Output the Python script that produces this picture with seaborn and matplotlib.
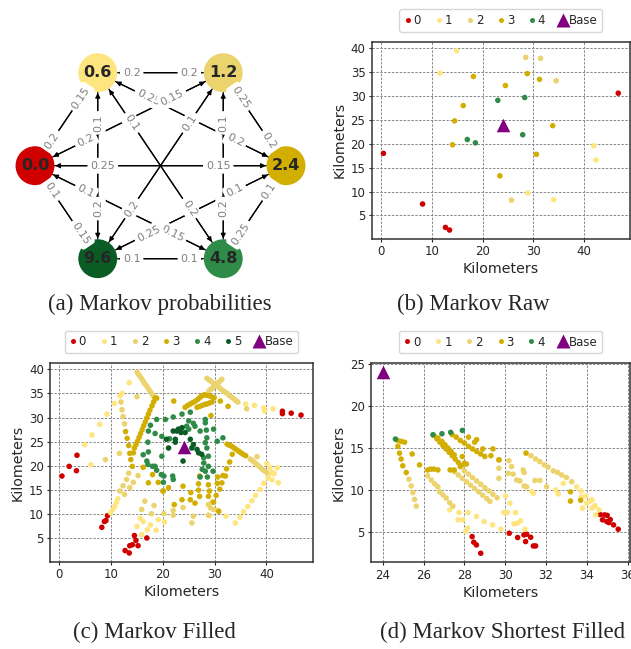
import math
import pandas as pd
import matplotlib
matplotlib.use("Agg")
import matplotlib.pyplot as plt
from matplotlib.patches import FancyArrowPatch
from matplotlib.lines import Line2D
import seaborn as sns

sns.set_style("ticks")
plt.rcParams["font.family"] = ["DejaVu Sans"]

# ---------------- Markov chain ----------------
states = ["0.0", "0.6", "1.2", "2.4", "4.8", "9.6"]
# probability of moving from the row state to the column state
transitions = [
    [0.00, 0.15, 0.15, 0.15, 0.15, 0.15],
    [0.20, 0.00, 0.20, 0.20, 0.20, 0.20],
    [0.20, 0.20, 0.00, 0.20, 0.20, 0.20],
    [0.25, 0.25, 0.25, 0.00, 0.25, 0.25],
    [0.10, 0.10, 0.10, 0.10, 0.00, 0.10],
    [0.10, 0.10, 0.10, 0.10, 0.10, 0.00],
]

levels = ["0", "1", "2", "3", "4", "5"]
level_colors = ["#D00000", "#FFE57F", "#EBD36D", "#D2AE00", "#2E8B48", "#0A5C24"]
base_color = "#800080"
base_point = (24.0, 24.0)

# ---------------- Markov Raw ----------------
raw_level0 = [(0.5, 18.0), (8.2, 7.4), (12.7, 2.5), (13.5, 1.95), (46.7, 30.6)]
raw_level1 = [(14.9, 39.5), (11.6, 34.8), (41.9, 19.6), (42.3, 16.6), (34.0, 8.3), (28.9, 9.7)]
raw_level2 = [(28.5, 38.1), (31.4, 37.9), (34.5, 33.2), (25.7, 8.2)]
raw_level3 = [(18.2, 34.1), (28.8, 34.7), (31.2, 33.5), (24.5, 32.2), (16.2, 28.0),
              (14.5, 24.8), (14.1, 19.8), (33.8, 23.8), (30.6, 17.8), (23.4, 13.3)]
raw_level4 = [(23.0, 29.1), (28.3, 29.7), (17.0, 20.9), (18.6, 20.2), (27.9, 21.9)]

# ---------------- Markov Filled ----------------
filled_level0 = [(0.5, 17.9), (1.9, 19.9), (3.4, 22.2), (3.3, 19.0),
                 (8.2, 7.3), (8.7, 8.5), (9.0, 8.7), (9.3, 9.7),
                 (12.7, 2.5), (13.5, 2.0), (13.6, 3.5), (14.1, 3.7), (14.5, 5.6),
                 (14.8, 4.6), (15.2, 3.5), (16.9, 5.1),
                 (43.1, 31.3), (43.1, 30.8), (44.8, 30.9), (46.7, 30.5)]
filled_level1 = [(4.9, 24.4), (6.3, 26.4), (7.8, 28.6), (9.2, 30.7), (10.6, 32.9), (11.7, 34.5),
                 (12.1, 35.0), (13.5, 37.2), (6.1, 20.2),
                 (9.9, 10.3), (10.3, 11.0), (10.7, 11.6), (11.0, 12.4), (11.3, 13.2),
                 (15.6, 9.2), (16.2, 8.5), (15.0, 7.5), (15.9, 5.8), (17.0, 6.8), (18.7, 6.7),
                 (17.6, 7.8), (19.1, 8.9), (20.3, 8.4), (29.0, 9.7),
                 (36.0, 32.8), (37.7, 32.5), (39.5, 32.0), (39.7, 31.3), (41.3, 31.8),
                 (32.2, 9.6), (34.0, 8.2), (34.9, 9.4), (35.6, 10.5), (36.4, 11.6), (37.2, 12.8),
                 (37.9, 13.9), (38.8, 15.1), (39.5, 16.4), (40.3, 17.5), (41.2, 18.6), (42.1, 19.6),
                 (40.1, 20.5), (40.5, 18.3), (41.1, 17.1), (42.3, 16.5), (40.7, 19.6), (41.5, 18.4)]
filled_level2 = [(15.0, 39.4), (15.3, 38.9), (15.6, 38.5), (15.9, 38.0), (16.2, 37.5), (16.5, 37.0),
                 (16.8, 36.6), (17.1, 36.1), (17.4, 35.6), (17.7, 35.2), (18.0, 34.7), (18.3, 34.3),
                 (28.5, 38.1), (28.9, 37.8), (29.3, 37.5), (29.7, 37.1), (30.1, 36.8), (30.5, 36.5),
                 (30.9, 36.2), (31.3, 35.8), (31.7, 35.5), (32.1, 35.2), (32.5, 34.9), (32.9, 34.5),
                 (33.3, 34.2), (33.7, 33.9), (34.1, 33.5), (34.5, 33.2),
                 (31.4, 37.9), (31.1, 37.6), (30.8, 37.3), (30.5, 37.0), (29.8, 36.3), (29.5, 36.0),
                 (29.2, 35.8), (28.9, 35.5), (36.2, 31.8),
                 (36.9, 21.4), (37.3, 21.1), (37.6, 20.8), (38.0, 20.4), (38.4, 20.1), (38.8, 19.7),
                 (39.2, 19.3), (39.6, 19.0), (40.0, 18.7), (38.2, 21.9),
                 (11.9, 33.2), (12.1, 31.6), (12.3, 30.2), (12.6, 28.7), (15.0, 34.3),
                 (11.6, 22.6), (8.9, 21.3),
                 (11.7, 14.8), (12.3, 15.9), (13.0, 17.2), (12.6, 14.1), (13.6, 15.5), (14.3, 16.6),
                 (15.2, 18.0), (13.4, 18.5),
                 (16.5, 12.7), (18.3, 11.8), (17.8, 10.1), (20.2, 10.1), (22.0, 10.8), (22.0, 9.8),
                 (23.9, 11.4), (25.9, 9.6), (25.6, 8.2), (28.8, 12.0), (29.5, 12.5), (29.8, 11.0),
                 (29.2, 11.3), (28.8, 9.8), (30.6, 10.8), (15.9, 11.0)]
filled_level3 = [(18.8, 34.0), (18.5, 34.0), (18.2, 33.2), (17.9, 32.4), (17.5, 31.5), (17.2, 30.7),
                 (16.9, 29.9), (16.6, 29.1), (16.3, 28.3), (16.0, 27.5), (15.7, 26.7), (15.4, 25.9),
                 (15.1, 25.1), (14.8, 24.4), (14.5, 23.7),
                 (12.8, 27.1), (13.1, 25.7), (13.4, 24.2), (13.6, 22.6), (13.8, 21.3), (14.1, 19.9),
                 (14.3, 22.7), (16.2, 19.7), (17.2, 16.5), (18.0, 18.2), (18.3, 19.9), (20.1, 14.8),
                 (19.1, 16.6), (22.1, 33.4),
                 (24.3, 32.1), (24.8, 32.5), (25.3, 32.8), (25.8, 33.1), (26.3, 33.4), (26.8, 33.8),
                 (27.2, 34.2), (27.6, 34.5), (28.0, 34.7), (28.4, 34.6), (28.9, 34.5), (29.4, 34.3),
                 (29.9, 34.1), (31.1, 33.4), (32.6, 32.3), (29.3, 30.4),
                 (26.6, 32.1), (27.1, 32.3), (27.6, 32.5), (28.1, 32.7), (28.5, 32.8), (29.0, 33.0),
                 (29.5, 33.2),
                 (32.4, 24.5), (32.8, 24.3), (33.1, 24.2), (33.5, 23.9), (33.9, 23.6), (34.3, 23.3),
                 (34.7, 23.0), (35.1, 22.7), (35.5, 22.4), (36.0, 22.1),
                 (33.4, 22.4), (32.9, 20.8), (32.3, 19.4), (32.1, 17.9), (31.6, 18.0), (30.6, 17.7),
                 (30.5, 16.4), (31.4, 16.5), (31.0, 15.2), (30.3, 13.9), (29.8, 12.5),
                 (21.1, 15.5), (20.0, 14.8), (22.2, 12.0), (23.7, 13.0), (23.9, 15.8), (25.4, 14.5),
                 (25.3, 13.0), (26.2, 12.3), (26.9, 16.3), (26.9, 15.0), (27.1, 13.7), (27.1, 17.9),
                 (28.8, 16.1), (29.0, 14.8), (28.8, 13.7), (30.8, 10.6)]
filled_level4 = [(17.6, 28.4), (18.8, 29.6), (20.5, 29.6), (22.0, 30.1), (23.7, 30.7), (25.3, 31.1),
                 (17.2, 27.2), (18.5, 26.7), (19.8, 26.1), (21.3, 25.6),
                 (17.1, 24.9), (17.2, 22.9), (16.2, 22.3), (16.9, 21.0), (17.1, 20.3), (18.0, 19.9),
                 (18.5, 19.9), (18.8, 19.1), (19.7, 18.2), (20.2, 17.9), (20.1, 16.6), (19.8, 22.0),
                 (21.9, 17.9), (22.0, 17.2),
                 (25.0, 29.3), (25.9, 28.8), (26.2, 28.2), (24.6, 28.2), (25.0, 27.6), (28.2, 29.6),
                 (28.2, 28.9), (28.4, 27.4), (27.2, 27.2), (29.8, 27.6), (31.6, 25.8), (30.5, 25.1),
                 (28.5, 25.8), (28.2, 24.8), (28.5, 23.7), (27.9, 21.7), (28.8, 22.0),
                 (27.9, 20.6), (28.8, 19.9), (27.6, 19.3), (28.2, 18.9), (27.2, 17.7), (28.6, 17.7),
                 (29.7, 18.9)]
filled_level5 = [(22.0, 27.2), (23.0, 27.6), (23.7, 27.9), (24.3, 26.9), (20.7, 25.5), (21.1, 23.7),
                 (22.4, 25.5), (25.3, 25.5), (25.9, 24.4), (25.6, 23.7), (26.6, 23.4), (26.9, 22.7),
                 (27.5, 22.4), (23.9, 21.0), (22.7, 27.2), (22.4, 24.9), (23.5, 26.9)]

# ---------------- Markov Shortest Filled ----------------
short_level0 = [(28.38, 4.48), (28.46, 3.81), (28.59, 3.49), (28.8, 2.5), (30.2, 4.88), (30.61, 4.37),
                (30.92, 4.68), (31.05, 4.76), (31.25, 4.4), (31.0, 3.89), (31.38, 3.37), (31.49, 3.37),
                (34.66, 7.1), (34.87, 7.06), (34.77, 6.47), (34.98, 6.27), (35.08, 6.15),
                (35.31, 5.87), (35.54, 5.36), (35.15, 6.5), (35.0, 7.0)]
short_level1 = [(33.5, 10.4), (33.72, 9.9), (33.95, 9.3), (34.16, 8.7), (34.38, 8.1), (34.6, 7.66),
                (32.47, 10.04), (32.6, 9.56), (32.85, 10.8), (33.72, 9.17), (33.79, 7.86),
                (33.99, 8.45), (34.25, 8.85), (34.25, 7.86), (34.4, 8.14), (34.44, 7.06),
                (27.28, 7.66), (27.74, 7.34), (28.18, 7.34), (27.69, 6.47), (27.93, 6.47),
                (28.16, 5.48), (28.07, 5.08), (28.59, 6.87), (28.97, 6.27), (29.38, 5.87),
                (29.79, 5.36), (29.93, 7.34), (30.11, 7.34), (30.51, 7.34), (30.43, 6.0),
                (30.59, 6.07), (30.75, 6.35), (30.97, 5.36), (30.23, 8.45), (30.02, 9.3),
                (31.3, 9.84), (31.38, 9.64)]
short_level2 = [(25.28, 11.3), (25.39, 10.5), (25.48, 9.7), (25.56, 8.9), (25.64, 8.1),
                (26.2, 11.7), (26.38, 11.2), (26.54, 10.75), (26.7, 10.4), (26.79, 9.8),
                (26.95, 9.44), (27.11, 9.05), (27.28, 8.5), (27.44, 8.1),
                (27.5, 12.2), (27.7, 11.8), (27.9, 11.4), (28.1, 11.0), (28.3, 10.6), (28.5, 10.2),
                (28.7, 9.8), (28.9, 9.4), (29.1, 9.0), (29.25, 8.65),
                (28.0, 12.3), (28.2, 11.9), (28.4, 11.5), (28.6, 11.1), (28.8, 10.7), (29.0, 10.3),
                (29.2, 9.9), (29.4, 9.5), (29.6, 9.1),
                (31.26, 14.1), (31.49, 13.7), (31.7, 13.4), (31.92, 13.0), (32.1, 12.74),
                (32.36, 12.3), (32.57, 12.1), (32.77, 11.8), (33.0, 11.5), (33.26, 11.0),
                (30.18, 13.5), (30.31, 12.8), (30.15, 12.0), (30.39, 11.9), (30.56, 11.2),
                (30.72, 11.1), (30.88, 12.4), (30.93, 12.1), (30.93, 10.5), (31.05, 10.4),
                (31.46, 11.15), (31.7, 11.15), (32.03, 10.4), (29.69, 12.6), (29.69, 11.4)]
short_level3 = [(24.74, 15.9), (24.9, 15.8), (25.07, 15.7), (24.74, 15.2), (24.82, 14.4), (24.9, 13.7),
                (24.98, 12.9), (25.15, 12.1), (25.44, 14.3), (25.8, 13.0),
                (26.2, 12.4), (26.35, 12.5), (26.5, 12.5), (26.7, 12.4),
                (26.5, 16.5), (26.65, 16.1), (26.8, 15.7), (26.95, 15.3), (27.1, 14.9), (27.25, 14.5),
                (27.4, 14.1), (27.55, 13.7), (27.7, 13.3), (27.85, 12.9),
                (26.7, 16.2), (26.9, 15.8), (27.05, 15.4), (27.2, 15.0), (27.35, 14.6), (27.5, 14.2),
                (27.4, 16.6), (27.6, 16.3), (27.8, 15.9), (28.0, 15.6), (28.2, 15.2), (28.4, 14.9),
                (28.6, 14.6), (28.8, 14.3), (29.0, 14.0),
                (28.2, 16.3), (28.6, 16.0), (28.5, 15.7), (28.9, 14.9), (29.4, 14.9), (29.3, 14.1),
                (29.7, 13.6), (27.9, 14.0), (28.1, 13.1), (27.3, 12.4), (27.5, 12.4), (27.8, 12.8),
                (28.0, 13.2), (31.02, 14.4), (29.69, 13.6), (33.2, 9.8), (33.2, 8.7), (33.7, 8.8)]
short_level4 = [(24.62, 16.07), (26.46, 16.59), (26.9, 16.7), (27.33, 16.87), (27.9, 17.1)]

W, H = 631, 649
fig = plt.figure(figsize=(W / 100, H / 100), dpi=100)


def axes_px(left, top, right, bottom):
    return fig.add_axes([left / W, 1 - bottom / H, (right - left) / W, (bottom - top) / H])


# ---------------- (a) transition graph ----------------
ax_a = axes_px(0, 20, 320, 300)
ax_a.set_xlim(0, 320)
ax_a.set_ylim(300, 20)
ax_a.axis("off")

cx, cy, rx, ry = 160.5, 165.7, 125.5, 107.4
angles = [180, 120, 60, 0, -60, -120]
node_xy = [(cx + rx * math.cos(math.radians(a)), cy - ry * math.sin(math.radians(a))) for a in angles]
node_radius_pt = 14.0

n = len(states)
for i in range(n):
    for j in range(n):
        if i == j:
            continue
        arrow = FancyArrowPatch(node_xy[i], node_xy[j], arrowstyle="-|>", mutation_scale=7,
                                shrinkA=node_radius_pt, shrinkB=node_radius_pt + 0.5,
                                color="black", lw=0.9, zorder=1)
        ax_a.add_patch(arrow)

node_df = pd.DataFrame({"x": [p[0] for p in node_xy], "y": [p[1] for p in node_xy], "state": states})
sns.scatterplot(data=node_df, x="x", y="y", hue="state", palette=dict(zip(states, level_colors)),
                s=(2 * node_radius_pt) ** 2, linewidth=0, legend=False, ax=ax_a, zorder=2)
ax_a.set_xlabel("")
ax_a.set_ylabel("")

label_pos = 0.27
for j in range(n):
    for i in range(n):
        if i == j:
            continue
        (x1, y1), (x2, y2) = node_xy[i], node_xy[j]
        lx = x2 + (x1 - x2) * label_pos
        ly = y2 + (y1 - y2) * label_pos
        ang = math.degrees(math.atan2(-(y2 - y1), x2 - x1))
        if ang > 90:
            ang -= 180
        elif ang <= -90:
            ang += 180
        ax_a.text(lx, ly, f"{transitions[i][j]:g}", rotation=ang, rotation_mode="anchor",
                  ha="center", va="center", fontsize=8, color="#808080", zorder=3,
                  bbox=dict(boxstyle="round,pad=0.2", fc="white", ec="white"))

for (x, y), s in zip(node_xy, states):
    ax_a.text(x, y, s, ha="center", va="center", fontsize=11.5, fontweight="bold", zorder=4)


# ---------------- scatter panels ----------------
def draw_panel(ax, groups, xticks, yticks):
    rows = []
    for lvl, pts in groups:
        rows += [{"x": px, "y": py, "level": lvl} for px, py in pts]
    df = pd.DataFrame(rows)
    used = [g[0] for g in groups]
    pal = {lvl: level_colors[levels.index(lvl)] for lvl in used}
    sns.scatterplot(data=df, x="x", y="y", hue="level", hue_order=used, palette=pal,
                    s=16, linewidth=0, legend=False, ax=ax, zorder=3)
    sns.scatterplot(x=[base_point[0]], y=[base_point[1]], marker="^", color=base_color,
                    s=95, linewidth=0, ax=ax, zorder=4)
    ax.set_xticks(xticks)
    ax.set_yticks(yticks)
    ax.set_xlabel("Kilometers", fontsize=10.3, labelpad=3)
    ax.set_ylabel("Kilometers", fontsize=10.3, labelpad=3)
    ax.tick_params(labelsize=8.5, length=2.5, width=0.8, pad=2)
    ax.grid(True, linestyle=(0, (2.5, 1.5)), color="#888888", lw=0.7)
    ax.set_axisbelow(True)
    for sp in ax.spines.values():
        sp.set_color("#333333")
        sp.set_linewidth(1.1)
        sp.set_visible(True)
    handles = [Line2D([], [], ls="none", marker="o", ms=3.6, mec="none",
                      mfc=level_colors[levels.index(l)]) for l in used]
    handles.append(Line2D([], [], ls="none", marker="^", ms=10, mec="none", mfc=base_color))
    ax.legend(handles, used + ["Base"], loc="lower center", bbox_to_anchor=(0.5, 1.05),
              ncol=len(handles), fontsize=8.5, handlelength=0.6, handletextpad=0.2,
              columnspacing=1.2, borderpad=0.4, borderaxespad=0, frameon=True,
              edgecolor="#cccccc", fancybox=True)


ax_b = axes_px(371.7, 41.7, 630, 239)
draw_panel(ax_b, [("0", raw_level0), ("1", raw_level1), ("2", raw_level2), ("3", raw_level3),
                  ("4", raw_level4)], [0, 10, 20, 30, 40], [5, 10, 15, 20, 25, 30, 35, 40])

ax_c = axes_px(50, 363, 313, 562)
draw_panel(ax_c, [("0", filled_level0), ("1", filled_level1), ("2", filled_level2),
                  ("3", filled_level3), ("4", filled_level4), ("5", filled_level5)],
           [0, 10, 20, 30, 40], [5, 10, 15, 20, 25, 30, 35, 40])

ax_d = axes_px(371, 363.3, 630, 562.3)
draw_panel(ax_d, [("0", short_level0), ("1", short_level1), ("2", short_level2),
                  ("3", short_level3), ("4", short_level4)],
           [24, 26, 28, 30, 32, 34, 36], [5, 10, 15, 20, 25])

# ---------------- captions ----------------
captions = [("(a) Markov probabilities", 160, 304), ("(b) Markov Raw", 473, 304),
            ("(c) Markov Filled", 154, 632), ("(d) Markov Shortest Filled", 503, 632)]
for text, x, y in captions:
    fig.text(x / W, 1 - y / H, text, ha="center", va="center",
             family=["Liberation Serif"], fontsize=16.5)

fig.savefig("out.png", dpi=100)
